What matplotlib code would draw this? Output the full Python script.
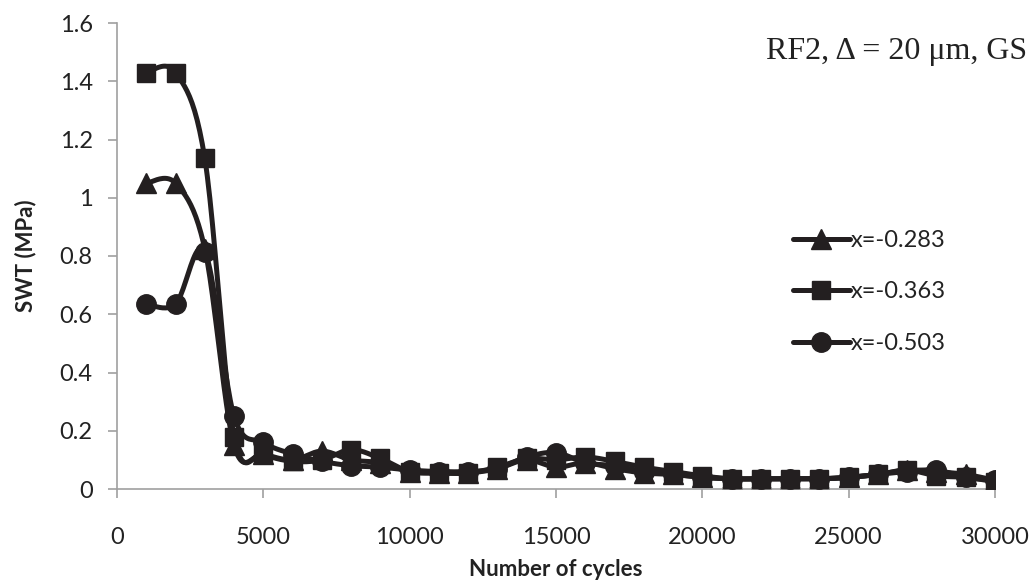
import numpy as np
import matplotlib
matplotlib.use("Agg")
import matplotlib.pyplot as plt
from matplotlib.lines import Line2D

cycles = list(range(1000, 30001, 1000))

swt_283 = [1.05, 1.05, 0.825, 0.15, 0.12, 0.10, 0.13, 0.10, 0.09, 0.06,
           0.055, 0.055, 0.07, 0.10, 0.075, 0.09, 0.07, 0.055, 0.05, 0.04,
           0.035, 0.035, 0.035, 0.035, 0.04, 0.05, 0.065, 0.06, 0.05, 0.03]
swt_363 = [1.43, 1.43, 1.135, 0.18, 0.12, 0.095, 0.10, 0.135, 0.105, 0.06,
           0.055, 0.055, 0.075, 0.105, 0.10, 0.11, 0.095, 0.075, 0.06, 0.045,
           0.035, 0.035, 0.035, 0.035, 0.04, 0.05, 0.065, 0.045, 0.04, 0.025]
swt_503 = [0.635, 0.635, 0.815, 0.25, 0.16, 0.12, 0.095, 0.08, 0.075, 0.065,
           0.06, 0.06, 0.07, 0.11, 0.125, 0.09, 0.08, 0.06, 0.05, 0.04,
           0.035, 0.035, 0.035, 0.035, 0.04, 0.05, 0.06, 0.065, 0.04, 0.03]

series = [
    ("x=-0.283", swt_283, "^", 14),
    ("x=-0.363", swt_363, "s", 13),
    ("x=-0.503", swt_503, "o", 14),
]

xticks = [0, 5000, 10000, 15000, 20000, 25000, 30000]
yticks = [0, 0.2, 0.4, 0.6, 0.8, 1.0, 1.2, 1.4, 1.6]
ytick_labels = ["0", "0.2", "0.4", "0.6", "0.8", "1", "1.2", "1.4", "1.6"]

FONT = ["Lato", "Open Sans", "DejaVu Sans"]
INK = "#231f20"
GRID = "#a0a0a0"
TEXT = "#222222"


def smooth(x, y, n=24):
    """Bezier smoothing through every point (Catmull-Rom style)."""
    x = np.asarray(x, float)
    y = np.asarray(y, float)
    # work in screen-like units so the tangents behave as drawn
    sx = 30000.0 / 878.0
    sy = 1.6 / 466.0
    P = np.column_stack([x / sx, y / sy])
    out = []
    m = len(P)
    for i in range(m - 1):
        p0 = P[i - 1] if i > 0 else P[i]
        p1 = P[i]
        p2 = P[i + 1]
        p3 = P[i + 2] if i + 2 < m else P[i + 1]
        c1 = p1 + (p2 - p0) / 6.0
        c2 = p2 - (p3 - p1) / 6.0
        t = np.linspace(0, 1, n)[:, None]
        seg = ((1 - t) ** 3) * p1 + 3 * ((1 - t) ** 2) * t * c1 \
            + 3 * (1 - t) * t ** 2 * c2 + t ** 3 * p2
        out.append(seg if i == 0 else seg[1:])
    seg = np.vstack(out)
    return seg[:, 0] * sx, seg[:, 1] * sy


fig = plt.figure(figsize=(10.32, 5.86), dpi=100)
ax = fig.add_axes([117 / 1032, 1 - 489 / 586, (995 - 117) / 1032, (489 - 23) / 586])

handles = []
for k, (label, vals, mk, ms) in enumerate(series):
    sxv, syv = smooth(cycles, vals)
    ax.plot(sxv, syv, color=INK, lw=3.6, solid_capstyle="round", zorder=2 + k)
    ax.plot(cycles, vals, ls="none", marker=mk, ms=ms, color=INK, zorder=2 + k)
    handles.append(Line2D([], [], color=INK, lw=3.6, marker=mk, ms=ms,
                          solid_capstyle="round"))

ax.set_xlim(0, 30000)
ax.set_ylim(0, 1.6)
ax.set_xticks(xticks)
ax.set_xticklabels([str(v) for v in xticks])
ax.set_yticks(yticks)
ax.set_yticklabels(ytick_labels)

for s in ("top", "right"):
    ax.spines[s].set_visible(False)
for s in ("left", "bottom"):
    ax.spines[s].set_color(GRID)
    ax.spines[s].set_linewidth(1.2)
ax.tick_params(axis="both", colors=GRID, length=6.5, width=1.2, direction="out",
               labelcolor=TEXT, labelsize=17)
ax.tick_params(axis="x", pad=21)
ax.tick_params(axis="y", pad=11)
for t in ax.get_xticklabels() + ax.get_yticklabels():
    t.set_family(FONT)

ax.set_xlabel("Number of cycles", fontsize=16, fontweight="bold",
              family=FONT, color=TEXT, labelpad=8)
ax.set_ylabel("SWT (MPa)", fontsize=16, fontweight="bold",
              family=FONT, color=TEXT, labelpad=17)

leg = ax.legend(handles, [s[0] for s in series], loc="center left",
                bbox_to_anchor=(793 / 1032, 1 - 292 / 586), bbox_transform=fig.transFigure,
                frameon=False, handlelength=2.4, handletextpad=0.05,
                labelspacing=1.3, prop={"family": FONT, "size": 17},
                borderaxespad=0, borderpad=0)
for t in leg.get_texts():
    t.set_color(TEXT)

fig.text(1027 / 1032, 1 - 52 / 586, "RF2, Δ = 20 μm, GS", ha="right", va="center",
         fontsize=23, family=["Liberation Serif", "DejaVu Serif"], color=TEXT)

fig.savefig("out.png", dpi=100)
